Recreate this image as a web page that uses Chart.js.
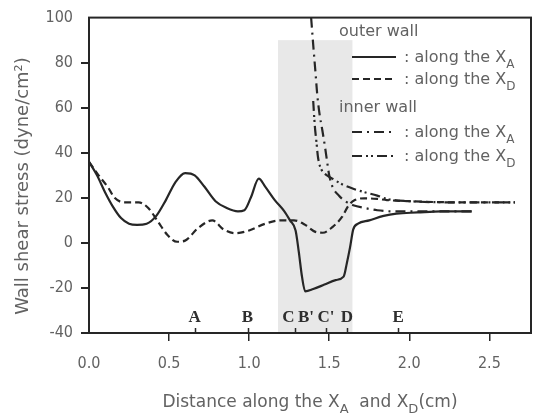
<!DOCTYPE html>
<html><head><meta charset="utf-8">
<script src="https://cdn.jsdelivr.net/npm/chart.js@4/dist/chart.umd.min.js"></script>
<style>html,body{margin:0;padding:0;background:#fff}canvas{display:block}</style>
</head><body>
<canvas id="c" width="534" height="417" style="width:534px;height:417px"></canvas>
<script>
// ---- data ----
const xTickValues = [0.0, 0.5, 1.0, 1.5, 2.0, 2.5];
const yTickValues = [-40, -20, 0, 20, 40, 60, 80, 100];
const xRange = [0, 2.76];
const yRange = [-40, 100];
const shadeX = [1.18, 1.645];
const shadeY = [-40, 90];
const siteLetters = ['A', 'B', 'C', "B'", "C'", 'D', 'E'];
const siteLetterX = [0.66, 0.99, 1.245, 1.355, 1.48, 1.61, 1.93];
const siteTickX = [0.66, 0.995, 1.285, 1.48, 1.61, 1.93];
const legendGroups = ['outer wall', 'inner wall'];
const legendText = ': along the X';
const legendSubs = ['A', 'D', 'A', 'D'];
const xTitleParts = [['Distance along the X', false], ['A', true], ['  and X', false], ['D', true], ['(cm)', false]];
const yTitle = 'Wall shear stress (dyne/cm\u00B2)';

const outerAlongXA = [[0,36],[0.05,30],[0.1,22.5],[0.15,16],[0.2,11],[0.25,8.5],[0.3,8],[0.36,8.5],[0.42,12],[0.48,19],[0.54,27],[0.6,31],[0.66,30],[0.72,25],[0.79,18.5],[0.86,15.5],[0.93,14],[0.97,14.5],[1.01,20],[1.06,28.5],[1.1,25],[1.16,19],[1.22,14],[1.255,10],[1.29,5.5],[1.31,-4],[1.33,-15],[1.35,-21.5],[1.4,-20.5],[1.47,-18.5],[1.54,-16.5],[1.59,-15],[1.61,-9],[1.63,-2],[1.65,6],[1.68,8.5],[1.75,10],[1.84,12],[1.92,13],[2.05,13.5],[2.2,14],[2.39,14]];
const outerAlongXD = [[0,36],[0.06,30],[0.12,24.5],[0.16,20],[0.22,18],[0.31,18],[0.37,15.5],[0.43,9.5],[0.49,3.5],[0.55,0.5],[0.6,1],[0.68,6.5],[0.77,10],[0.84,6],[0.91,4.3],[1.0,5.5],[1.1,8.5],[1.2,10],[1.28,10],[1.35,8],[1.41,5],[1.46,4.5],[1.52,7],[1.58,11.5],[1.62,16.5],[1.66,19],[1.72,19.8],[1.8,19.5],[1.86,19],[2.0,18.5],[2.3,18],[2.66,18]];
const innerAlongXA = [[1.387,100],[1.4,88],[1.415,75],[1.425,66],[1.44,57],[1.457,50],[1.475,42],[1.485,37],[1.5,30],[1.52,25],[1.56,21],[1.6,18.5],[1.65,16.7],[1.72,15.5],[1.8,14.5],[1.9,14],[2.1,14],[2.39,14]];
const innerAlongXD = [[1.4,63],[1.41,52],[1.42,45],[1.43,38],[1.455,32],[1.475,30.5],[1.52,28.5],[1.58,26],[1.65,24],[1.72,22.5],[1.8,21],[1.86,19.5],[2.0,18.5],[2.3,18],[2.66,18]];

// ---- styles ----
const LINE = '#262626';
const TEXT = '#626262';
const dashOuterXD = [7, 4];
const dashInnerXA = [10, 5, 2, 5];
const dashInnerXD = [10, 4, 2, 3, 2, 4];

function toPts(a){ return a.map(p => ({x:p[0], y:p[1]})); }
function ds(data, dash){
  return {data: toPts(data), borderColor: LINE, borderWidth: 2.2, borderDash: dash, pointRadius: 0,
          fill: false, cubicInterpolationMode: 'monotone', borderCapStyle: 'butt'};
}

function drawParts(ctx, parts, x, y, size, align){
  const big = size + 'px "DejaVu Sans", sans-serif';
  const small = Math.round(size*0.75) + 'px "DejaVu Sans", sans-serif';
  let w = 0;
  parts.forEach(p => { ctx.font = p[1] ? small : big; w += ctx.measureText(p[0]).width; });
  let cx = align === 'center' ? x - w/2 : x;
  ctx.textAlign = 'left'; ctx.textBaseline = 'alphabetic';
  parts.forEach(p => {
    ctx.font = p[1] ? small : big;
    ctx.fillText(p[0], cx, p[1] ? y + size*0.35 : y);
    cx += ctx.measureText(p[0]).width;
  });
}

const decor = {
  id: 'decor',
  beforeDatasetsDraw(chart){
    const {ctx, scales:{x, y}} = chart;
    ctx.save();
    ctx.fillStyle = '#e8e8e8';
    const x0 = x.getPixelForValue(shadeX[0]), x1 = x.getPixelForValue(shadeX[1]);
    const y0 = y.getPixelForValue(shadeY[1]), y1 = y.getPixelForValue(shadeY[0]);
    ctx.fillRect(x0, y0, x1 - x0, y1 - y0);
    ctx.restore();
  },
  afterDraw(chart){
    const {ctx, chartArea:a, scales:{x, y}} = chart;
    ctx.save();
    // frame
    ctx.strokeStyle = LINE; ctx.lineWidth = 2; ctx.setLineDash([]);
    ctx.strokeRect(a.left, a.top, a.right - a.left, a.bottom - a.top);
    // site ticks
    ctx.lineWidth = 1.5;
    siteTickX.forEach(v => {
      const px = Math.round(x.getPixelForValue(v)) + 0.5;
      ctx.beginPath(); ctx.moveTo(px, a.bottom); ctx.lineTo(px, a.bottom - 5); ctx.stroke();
    });
    // site letters
    ctx.fillStyle = '#2e2e2e';
    ctx.font = 'bold 17px "Liberation Serif", serif';
    ctx.textAlign = 'center'; ctx.textBaseline = 'alphabetic';
    siteLetters.forEach((t, i) => ctx.fillText(t, x.getPixelForValue(siteLetterX[i]), a.bottom - 11));
    // legend
    ctx.fillStyle = TEXT;
    ctx.font = '16px "DejaVu Sans", sans-serif';
    ctx.textAlign = 'left';
    ctx.fillText(legendGroups[0], 339, 36);
    ctx.fillText(legendGroups[1], 339, 112);
    const rowsY = [57, 79, 132, 156];
    chart.data.datasets.forEach((d, i) => {
      ctx.strokeStyle = LINE; ctx.lineWidth = 2.2; ctx.setLineDash(d.borderDash || []);
      ctx.beginPath(); ctx.moveTo(352, rowsY[i]); ctx.lineTo(396, rowsY[i]); ctx.stroke();
      ctx.setLineDash([]);
      ctx.fillStyle = TEXT;
      drawParts(ctx, [[legendText, false], [legendSubs[i], true]], 404, rowsY[i] + 5, 16, 'left');
    });
    // axis titles
    ctx.fillStyle = TEXT;
    drawParts(ctx, xTitleParts, 310, 407, 17, 'center');
    ctx.translate(28, 186); ctx.rotate(-Math.PI/2);
    ctx.font = '18px "DejaVu Sans", sans-serif';
    ctx.textAlign = 'center'; ctx.textBaseline = 'alphabetic';
    ctx.fillText(yTitle, 0, 0);
    ctx.restore();
  }
};

new Chart(document.getElementById('c'), {
  type: 'line',
  data: { datasets: [
    ds(outerAlongXA, []),
    ds(outerAlongXD, dashOuterXD),
    ds(innerAlongXA, dashInnerXA),
    ds(innerAlongXD, dashInnerXD)
  ]},
  options: {
    responsive: false, animation: false,
    layout: { padding: { top: 17, right: 3, left: 0, bottom: 0 } },
    plugins: { legend: { display: false }, tooltip: { enabled: false } },
    scales: {
      x: {
        type: 'linear', min: xRange[0], max: xRange[1],
        afterBuildTicks: s => { s.ticks = xTickValues.map(v => ({value: v})); },
        afterFit: s => { s.height = 84; },
        ticks: { callback: v => Number(v).toFixed(1), color: TEXT, padding: 13,
                 font: { family: '"DejaVu Sans Condensed", "DejaVu Sans", sans-serif', size: 16 } },
        grid: { drawOnChartArea: false, drawTicks: true, tickLength: 8, lineWidth: 1.5,
                color: c => (c.tick && c.tick.value === 0) ? 'rgba(0,0,0,0)' : LINE },
        border: { display: true, color: LINE, width: 2 }
      },
      y: {
        type: 'linear', min: yRange[0], max: yRange[1],
        afterBuildTicks: s => { s.ticks = yTickValues.map(v => ({value: v})); },
        afterFit: s => { s.width = 89; },
        ticks: { color: TEXT, padding: 8,
                 font: { family: '"DejaVu Sans Condensed", "DejaVu Sans", sans-serif', size: 16 } },
        grid: { drawOnChartArea: false, drawTicks: true, tickLength: 8, lineWidth: 2,
                color: c => (c.tick && c.tick.value === 100) ? 'rgba(0,0,0,0)' : LINE },
        border: { display: true, color: LINE, width: 2 }
      }
    }
  },
  plugins: [decor]
});
</script>
</body></html>
